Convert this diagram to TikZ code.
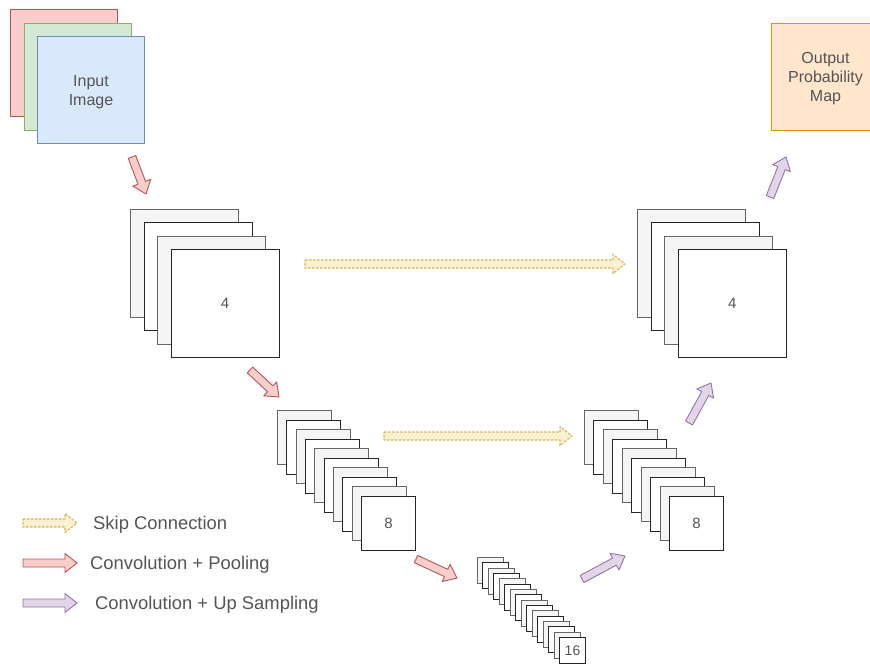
\documentclass[tikz,border=0pt]{standalone}
\usepackage{fontspec}
\setmainfont{Liberation Sans}
\usetikzlibrary{calc}
\definecolor{redF}{HTML}{F8CECC}\definecolor{redD}{HTML}{B85450}
\definecolor{greenF}{HTML}{D5E8D4}\definecolor{greenD}{HTML}{82B366}
\definecolor{blueF}{HTML}{DAE8FC}\definecolor{blueD}{HTML}{6C8EBF}
\definecolor{yelF}{HTML}{FFF2CC}\definecolor{yelD}{HTML}{D6B656}
\definecolor{purF}{HTML}{E1D5E7}\definecolor{purD}{HTML}{9673A6}
\definecolor{orF}{HTML}{FFE6CC}\definecolor{orD}{HTML}{D79B00}
\definecolor{grayF}{HTML}{F5F5F5}\definecolor{grayD}{HTML}{666666}
\definecolor{txt}{HTML}{555555}
\tikzset{
  lay/.style={draw, minimum width=#1, minimum height=#1, inner sep=0pt, anchor=north west, line width=1pt, text=txt, font=\fontsize{15}{18}\selectfont},
  layG/.style={lay=#1, fill=grayF, draw=grayD},
  layB/.style={lay=#1, fill=white, draw=black!85},
  inbox/.style={draw, minimum width=107pt, minimum height=107pt, inner sep=0pt, anchor=north west, line width=1pt},
  boxtext/.style={text=txt, align=center, font=\fontsize{16}{19}\selectfont, yshift=-2pt},
  legtext/.style={text=txt, anchor=west, inner sep=0pt, font=\fontsize{18.4}{22}\selectfont, yshift=-1.5pt},
  redarr/.style={fill=redF, draw=redD, line width=0.9pt, line join=round},
  purarr/.style={fill=purF, draw=purD, line width=0.9pt, line join=round},
  skiparr/.style={fill=yelF!80!yelD!60, draw=yelD, line width=1.1pt, line join=round, dash pattern=on 2.5pt off 1.5pt},
}
\newcommand\FatArr[3][]{%
  \coordinate (fa-h) at ($(#3)!12pt!(#2)$);
  \draw[#1] ($(#2)!4pt!90:(#3)$) -- ($(fa-h)!4pt!-90:(#2)$) -- ($(fa-h)!9.5pt!-90:(#2)$) -- (#3)
    -- ($(fa-h)!9.5pt!90:(#2)$) -- ($(fa-h)!4pt!90:(#2)$) -- ($(#2)!4pt!-90:(#3)$) -- cycle;
}
\begin{document}
\begin{tikzpicture}[x=1pt,y=-1pt]
\useasboundingbox[fill=white] (0,0) rectangle (870,664);
\clip (0,0) rectangle (870,664);

% input image
\node[inbox, fill=redF, draw=redD] (inR) at (10,9) {};
\node[inbox, fill=greenF, draw=greenD] (inG) at (23.5,22.5) {};
\node[inbox, fill=blueF, draw=blueD] (inB) at (37,36) {};
\node[boxtext] (inT) at (inB.center) {Input\\Image};

% output
\node[inbox, minimum width=108pt, fill=orF, draw=orD] (out) at (771,23) {};
\node[boxtext] (outT) at (out.center) {Output\\Probability\\Map};

% encoder stack 1
\foreach \i in {0,...,2}{
  \ifodd\i\relax
    \node[layB=108pt] (e1-\i) at (130+13.5*\i, 209+13.4*\i) {};
  \else
    \node[layG=108pt] (e1-\i) at (130+13.5*\i, 209+13.4*\i) {};
  \fi
}
\node[layB=108pt, text depth=-1pt] (e1-3) at (170.5,249.2) {4};

% encoder stack 2
\foreach \i in {0,...,8}{
  \ifodd\i\relax
    \node[layB=54pt] (e2-\i) at (277+9.33*\i, 410+9.56*\i) {};
  \else
    \node[layG=54pt] (e2-\i) at (277+9.33*\i, 410+9.56*\i) {};
  \fi
}
\node[layB=54pt] (e2-9) at (361,496) {8};

% bottleneck stack
\foreach \i in {0,...,14}{
  \ifodd\i\relax
    \node[layB=26pt] (b-\i) at (477+5.47*\i, 557+5.33*\i) {};
  \else
    \node[layG=26pt] (b-\i) at (477+5.47*\i, 557+5.33*\i) {};
  \fi
}
\node[layB=26pt, font=\fontsize{14}{16}\selectfont] (b-15) at (559,637) {16};

% decoder stack 2
\foreach \i in {0,...,8}{
  \ifodd\i\relax
    \node[layB=54pt] (d2-\i) at (584+9.44*\i, 410+9.56*\i) {};
  \else
    \node[layG=54pt] (d2-\i) at (584+9.44*\i, 410+9.56*\i) {};
  \fi
}
\node[layB=54pt] (d2-9) at (669,496) {8};

% decoder stack 1
\foreach \i in {0,...,2}{
  \ifodd\i\relax
    \node[layB=108pt] (d1-\i) at (637+13.6*\i, 209+13.4*\i) {};
  \else
    \node[layG=108pt] (d1-\i) at (637+13.6*\i, 209+13.4*\i) {};
  \fi
}
\node[layB=108pt, text depth=-1pt] (d1-3) at (677.8,249.2) {4};

% arrow end points
\coordinate (r1a) at (132,157); \coordinate (r1b) at (146,194);
\coordinate (r2a) at (250,370); \coordinate (r2b) at (279,397);
\coordinate (r3a) at (416,559); \coordinate (r3b) at (457,578);
\coordinate (p1a) at (582,579); \coordinate (p1b) at (625,556);
\coordinate (p2a) at (689,423); \coordinate (p2b) at (711,383);
\coordinate (p3a) at (770,197); \coordinate (p3b) at (786,157);
\coordinate (s1a) at (305,264); \coordinate (s1b) at (625,264);
\coordinate (s2a) at (384,436); \coordinate (s2b) at (572,436);

\FatArr[redarr]{r1a}{r1b}
\FatArr[redarr]{r2a}{r2b}
\FatArr[redarr]{r3a}{r3b}
\FatArr[purarr]{p1a}{p1b}
\FatArr[purarr]{p2a}{p2b}
\FatArr[purarr]{p3a}{p3b}
\FatArr[skiparr]{s1a}{s1b}
\FatArr[skiparr]{s2a}{s2b}

% legend
\coordinate (l1a) at (23,523); \coordinate (l1b) at (77,523);
\coordinate (l2a) at (23,563); \coordinate (l2b) at (77,563);
\coordinate (l3a) at (23,603); \coordinate (l3b) at (77,603);
\FatArr[skiparr]{l1a}{l1b}
\FatArr[redarr]{l2a}{l2b}
\FatArr[purarr]{l3a}{l3b}
\node[legtext] (lt1) at (93,523) {Skip Connection};
\node[legtext] (lt2) at (90,563) {Convolution + Pooling};
\node[legtext] (lt3) at (95,603) {Convolution + Up Sampling};
\end{tikzpicture}
\end{document}
